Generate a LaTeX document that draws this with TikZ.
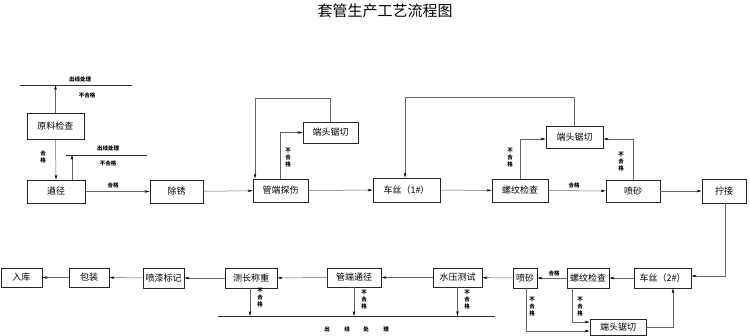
\documentclass[tikz,border=0pt]{standalone}
\usepackage{fontspec}
\setmainfont{Noto Sans CJK SC}
\usetikzlibrary{arrows.meta}
\tikzset{
  box/.style={draw=black!85, line width=0.9pt, inner sep=0pt, font=\fontsize{9}{10}\selectfont},
  arr/.style={draw=black!60, line width=0.5pt, -{Stealth[length=5pt,width=2.6pt,black]}},
  ln/.style={draw=black!60, line width=0.5pt},
  outl/.style={draw=black!80, line width=0.8pt},
  lbl/.style={font=\fontsize{5.5}{6}\selectfont\bfseries, inner sep=0pt},
  vlbl/.style={font=\fontsize{5.5}{7}\selectfont\bfseries, inner sep=0pt, align=center},
}
\begin{document}
\begin{tikzpicture}[x=1pt,y=-1pt]
\useasboundingbox (0,0) rectangle (750,336);
\node[inner sep=0pt, font=\fontsize{15}{16}\selectfont] (title) at (385,11) {套管生产工艺流程图};

% top row boxes
\node[box, minimum width=57pt, minimum height=26pt] (ylj) at (55.5,126) {原料检查};
\node[box, minimum width=58pt, minimum height=23pt] (tj) at (56,191.5) {遒径};
\node[box, minimum width=53pt, minimum height=23pt] (cx) at (176.5,191.5) {除锈};
\node[box, minimum width=55pt, minimum height=23pt] (gdts) at (280.5,190.5) {管端探伤};
\node[box, minimum width=55pt, minimum height=21pt] (dt1) at (330.5,132.5) {端头锯切};
\node[box, minimum width=67pt, minimum height=24pt] (cs1) at (406.5,190) {车丝（1\#）};
\node[box, minimum width=56pt, minimum height=23pt] (lw1) at (520,190.5) {螺纹检查};
\node[box, minimum width=54pt, minimum height=22pt] (ps1) at (633,191) {喷砂};
\node[box, minimum width=44pt, minimum height=24pt] (nj) at (724,191) {拧接};
\node[box, minimum width=57pt, minimum height=22pt] (dt2) at (574.5,137) {端头锯切};

% bottom row boxes
\node[box, minimum width=57pt, minimum height=20pt] (cs2) at (662.5,278) {车丝（2\#）};
\node[box, minimum width=42pt, minimum height=20pt] (lw2) at (588,278) {螺纹检查};
\node[box, minimum width=24pt, minimum height=20pt] (ps2) at (525,278) {喷砂};
\node[box, minimum width=56pt, minimum height=16pt] (dt3) at (618,327) {端头锯切};
\node[box, minimum width=49pt, minimum height=19pt] (sy) at (457.5,277.5) {水压测试};
\node[box, minimum width=54pt, minimum height=19pt] (gdtj) at (354,277.5) {管端通径};
\node[box, minimum width=52pt, minimum height=20pt] (ccz) at (251,278) {测长称重};
\node[box, minimum width=41pt, minimum height=20pt] (pq) at (163.5,278) {喷漆标记};
\node[box, minimum width=40pt, minimum height=19pt] (bz) at (89,277.5) {包装};
\node[box, minimum width=41pt, minimum height=19pt] (rk) at (21.5,277.5) {入库};

% out-of-line bars
\coordinate (L1a) at (20,85); \coordinate (L1b) at (132,85);
\coordinate (L2a) at (66,155); \coordinate (L2b) at (147,155);
\coordinate (L3a) at (218,316); \coordinate (L3b) at (495,316);
\draw[outl] (L1a) -- (L1b);
\draw[outl] (L2a) -- (L2b);
\draw[outl] (L3a) -- (L3b);
\node[lbl] (t1a) at (80,79) {出线处理};
\node[lbl] (t1b) at (87,95) {不合格};
\node[lbl] (t2a) at (108,148) {出线处理};
\node[lbl] (t2b) at (108,163) {不合格};
\node[lbl] (t3a) at (327,329) {出};
\node[lbl] (t3b) at (347,329) {线};
\node[lbl] (t3c) at (366,329) {处};
\node[lbl] (t3d) at (386,329) {理};

% connectors top
\draw[arr] (ylj.north) -- (ylj.north |- L1a);
\draw[arr] (ylj.south) -- (tj.north);
\node[vlbl] (h1) at (43,157) {合\\格};
\draw[arr] ([xshift=16pt]tj.north) -- ([xshift=16pt]tj.north |- L2a);
\draw[arr] (tj) -- (cx);
\node[lbl] (h2) at (113,185) {合格};
\draw[arr] (cx) -- (gdts);
\draw[arr] (gdts.north) |- (dt1.west);
\node[vlbl] (b1) at (288,158) {不\\合\\格};
\coordinate (k1) at (255,98);
\draw[arr] (dt1.north) |- (k1) -- (k1 |- gdts.north);
\draw[arr] (gdts) -- (cs1);
\draw[arr] (cs1) -- (lw1);
\draw[arr] (lw1.north) |- ([yshift=-2pt]dt2.west);
\node[vlbl] (b2) at (510,158) {不\\合\\格};
\draw[arr] (ps1.north) |- ([yshift=-2pt]dt2.east);
\node[vlbl] (b3) at (621,162) {不\\合\\格};
\coordinate (k2) at (405,97);
\draw[arr] (dt2.north) |- (k2) -- (k2 |- cs1.north);
\draw[arr] (lw1) -- (ps1);
\node[lbl] (h3) at (574,185) {合格};
\draw[arr] (ps1) -- (nj);
\draw[arr] ([xshift=1.5pt]nj.south) |- ([yshift=2pt]cs2.east);

% connectors bottom
\draw[arr] (cs2) -- (lw2);
\draw[arr] (lw2) -- (ps2);
\node[lbl] (h4) at (554,273) {合格};
\draw[arr] (ps2) -- (sy);
\draw[arr] (sy) -- (gdtj);
\draw[arr] (gdtj) -- (ccz);
\draw[arr] (ccz) -- (pq);
\draw[arr] (pq) -- (bz);
\draw[arr] (bz) -- (rk);
\draw[arr] ([xshift=-16pt]lw2.south) |- ([yshift=5pt]dt3.west);
\draw[arr] ([xshift=1pt]ps2.south) |- ([yshift=-4pt]dt3.west);
\node[vlbl] (b4) at (532,307) {不\\合\\格};
\node[vlbl] (b5) at (580,307) {不\\合\\格};
\draw[arr] (dt3.east) -| ([xshift=10.5pt]cs2.south);
\draw[arr] ([xshift=-1pt]ccz.south) -- ([xshift=-1pt]ccz.south |- L3a);
\draw[arr] (gdtj.south) -- (gdtj.south |- L3a);
\draw[arr] (sy.south) -- (sy.south |- L3a);
\node[vlbl] (b6) at (260,298) {不\\合\\格};
\node[vlbl] (b7) at (364,300) {不\\合\\格};
\node[vlbl] (b8) at (467,300) {不\\合\\格};
\end{tikzpicture}
\end{document}
